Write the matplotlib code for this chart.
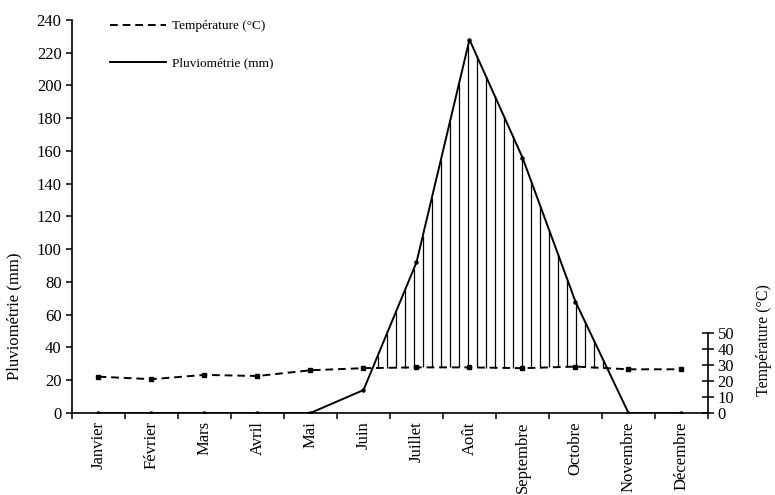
import numpy as np
import matplotlib
matplotlib.use("Agg")
from matplotlib import pyplot as plt

plt.rcParams['font.family'] = ['Liberation Serif', 'DejaVu Serif']

months = ["Janvier", "Février", "Mars", "Avril", "Mai", "Juin", "Juillet",
          "Août", "Septembre", "Octobre", "Novembre", "Décembre"]
pluvio = [0, 0, 0, 0, 0, 14, 92, 228, 156, 68, 0, 0]
temper = [22.7, 21.1, 23.8, 23.1, 26.7, 28.0, 28.5, 28.5, 28.0, 29.0, 27.3, 27.3]

t_top = 245.6  # right axis top so that 50 °C sits just under 50 mm

x = np.arange(len(months)) + 0.5
P = np.array(pluvio, dtype=float)
T = np.array(temper, dtype=float)

fig = plt.figure(figsize=(7.75, 4.95), dpi=100)
ax = fig.add_axes([0.0929, 0.1657, 0.8206, 0.7939])
ax2 = ax.twinx()

# hatching between the two curves where P > T
T_mm = T * 240 / t_top
hx = np.arange(0.5, 11.5, 0.17)
hp = np.interp(hx, x, P)
ht = np.interp(hx, x, T_mm)
keep = hp > ht
ax.vlines(hx[keep], ht[keep], hp[keep], colors='black', linewidth=0.9)

ax.plot(x, P, color='black', linewidth=1.4, marker='o', markersize=2.2)
ax2.plot(x, T, color='black', linewidth=1.4, linestyle=(0, (4, 2.5)),
         marker='s', markersize=3.5)

# legend proxies
ax.plot([], [], color='black', linewidth=1.4, linestyle=(0, (4, 2.5)),
        label='Température (°C)')
ax.plot([], [], color='black', linewidth=1.4, label='Pluviométrie (mm)')

ax.set_xlim(0, 12)
ax.set_ylim(0, 240)
ax2.set_ylim(0, t_top)

ax.set_yticks(np.arange(0, 241, 20))
ax.set_xticks(np.arange(0, 13, 1))
ax.set_xticklabels([])
ax.set_xticks(x, minor=True)
ax.set_xticklabels(months, minor=True, rotation=90, fontsize=12)
ax.tick_params(axis='x', which='major', direction='out', length=4, width=1.1)
ax.tick_params(axis='x', which='minor', length=0, pad=6)
ax.tick_params(axis='y', direction='out', length=4, width=1.1, labelsize=12)

for s in ['top', 'right']:
    ax.spines[s].set_visible(False)
for s in ['left', 'bottom']:
    ax.spines[s].set_linewidth(1.2)

for s in ['top', 'left', 'bottom']:
    ax2.spines[s].set_visible(False)
ax2.spines['right'].set_bounds(0, 50)
ax2.spines['right'].set_linewidth(1.2)
ax2.set_yticks(np.arange(0, 51, 10))
ax2.tick_params(axis='y', direction='inout', length=8, width=1.1, labelsize=12, pad=3)

ax.set_ylabel('Pluviométrie (mm)', fontsize=12)
ax.yaxis.set_label_coords(-0.078, 0.247)
ax2.set_ylabel('Température (°C)', fontsize=11.5, rotation=90)
ax2.yaxis.set_label_coords(1.075, 0.186)

ax.legend(loc='upper left', bbox_to_anchor=(0.06, 1.0), frameon=False,
          fontsize=9.5, handlelength=4.2, handletextpad=0.5, labelspacing=1.9,
          borderpad=0, borderaxespad=0)

fig.savefig('out.png', dpi=100)
